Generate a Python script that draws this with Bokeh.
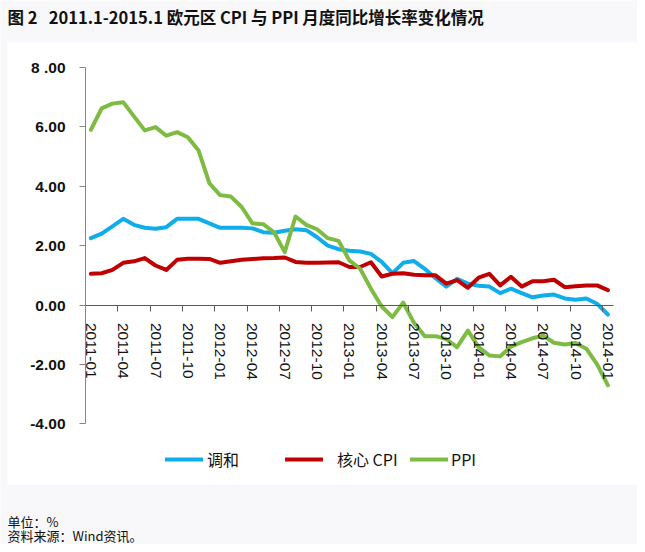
from bokeh.plotting import figure
from bokeh.models import (Range1d, FixedTicker, LinearAxis, Legend, LegendItem,
                          BoxAnnotation, Label)
from bokeh.embed import file_html
from bokeh.resources import INLINE

# ---------------- data ----------------
months = list(range(49))  # 2011-01 ... 2015-01

hicp = [2.25, 2.40, 2.65, 2.90, 2.70, 2.60, 2.57, 2.62, 2.90, 2.90, 2.90, 2.75,
        2.60, 2.60, 2.60, 2.58, 2.45, 2.43, 2.50, 2.55, 2.52, 2.28, 2.00, 1.88,
        1.83, 1.80, 1.72, 1.45, 1.07, 1.42, 1.48, 1.22, 0.90, 0.62, 0.88, 0.72,
        0.65, 0.62, 0.40, 0.55, 0.40, 0.26, 0.32, 0.35, 0.22, 0.18, 0.22, 0.04, -0.32]

core = [1.05, 1.07, 1.18, 1.42, 1.47, 1.58, 1.33, 1.18, 1.52, 1.56, 1.56, 1.55,
        1.42, 1.47, 1.52, 1.55, 1.57, 1.58, 1.60, 1.45, 1.42, 1.42, 1.43, 1.44,
        1.28, 1.28, 1.44, 0.96, 1.05, 1.07, 1.02, 1.00, 1.00, 0.72, 0.84, 0.58,
        0.92, 1.05, 0.66, 0.95, 0.62, 0.80, 0.80, 0.85, 0.60, 0.63, 0.66, 0.66, 0.50]

ppi = [5.90, 6.62, 6.78, 6.83, 6.35, 5.88, 5.99, 5.70, 5.82, 5.65, 5.20, 4.10,
       3.70, 3.65, 3.30, 2.75, 2.72, 2.45, 1.78, 2.98, 2.70, 2.55, 2.25, 2.16,
       1.50, 1.22, 0.55, -0.05, -0.41, 0.08, -0.60, -1.05, -1.05, -1.15, -1.42, -0.86,
       -1.42, -1.70, -1.73, -1.40, -1.25, -1.12, -1.03, -1.27, -1.33, -1.28, -1.47, -2.00, -2.70]

label_months = [0, 3, 6, 9, 12, 15, 18, 21, 24, 27, 30, 33, 36, 39, 42, 45, 48]
tick_labels = ["2011-01", "2011-04", "2011-07", "2011-10", "2012-01", "2012-04",
               "2012-07", "2012-10", "2013-01", "2013-04", "2013-07", "2013-10",
               "2014-01", "2014-04", "2014-07", "2014-10", "2014-01"]

y_ticks = [-4, -2, 0, 2, 4, 6, 8]
y_tick_labels = ["-4.00", "-2.00", "0.00", "2.00", "4.00", "6.00", "8 .00"]

series_names = ["调和", "核心 CPI", "PPI"]
series_colors = ["#0fadec", "#c00000", "#7dbb42"]

NB = "\u00a0"
title_text = "图" + NB + "2" + NB * 3 + "2011.1-2015.1" + NB + "欧元区" + NB + "CPI" + NB + "与" + NB + "PPI" + NB + "月度同比增长率变化情况"
note_unit = "单位：%"
note_source = "资料来源：Wind资讯。"

# ---------------- layout (picture pixels) ----------------
W, H = 637, 544
ORIGIN = 0
X0_PX, PX_PER_MONTH = 90.4, 10.77
Y0_PX, PX_PER_UNIT = 304.5, 29.7


def xd(px):
    return (px - X0_PX) / PX_PER_MONTH


def yd(px):
    return (Y0_PX - px) / PX_PER_UNIT


p = figure(width=W, height=H,
           x_range=Range1d(xd(ORIGIN), xd(ORIGIN + W)),
           y_range=Range1d(yd(ORIGIN + H), yd(ORIGIN)),
           x_axis_type=None, y_axis_type=None,
           output_backend="svg", toolbar_location=None,
           min_border=0, outline_line_color=None,
           background_fill_color="#f8f7fa", border_fill_color="#f8f7fa")

# white chart box
p.add_layout(BoxAnnotation(left=xd(7), right=xd(660), top=yd(42), bottom=yd(484),
                           fill_color="white", fill_alpha=1.0, line_color=None,
                           level="underlay"))

# y axis
yaxis = LinearAxis(fixed_location=-0.5, bounds=(-4, 8),
                   ticker=FixedTicker(ticks=y_ticks),
                   major_label_overrides={float(t): s for t, s in zip(y_ticks, y_tick_labels)},
                   axis_line_color="#868686", major_tick_line_color="#868686",
                   minor_tick_line_color=None, major_tick_out=6, major_tick_in=0,
                   major_label_standoff=14,
                   major_label_text_font="Liberation Sans",
                   major_label_text_font_size="15.5px",
                   major_label_text_font_style="bold",
                   major_label_text_color="#111111")
p.add_layout(yaxis, "left")

# x axis: line + boundary ticks
xaxis_ticks = LinearAxis(fixed_location=0, bounds=(-0.5, 48.5),
                         ticker=FixedTicker(ticks=[m - 0.5 for m in label_months]),
                         axis_line_color="#5a5a5a", major_tick_line_color="#5a5a5a",
                         minor_tick_line_color=None, major_tick_out=6, major_tick_in=0,
                         major_label_text_color=None)
p.add_layout(xaxis_ticks, "below")

# x axis: labels
xaxis_labels = LinearAxis(fixed_location=0,
                          ticker=FixedTicker(ticks=label_months),
                          major_label_overrides={float(m): s for m, s in zip(label_months, tick_labels)},
                          axis_line_color=None, major_tick_line_color=None,
                          minor_tick_line_color=None, major_tick_out=0, major_tick_in=0,
                          major_label_orientation="vertical",
                          major_label_standoff=18,
                          major_label_text_font="Liberation Sans",
                          major_label_text_font_size="15.5px",
                          major_label_text_color="#111111")
p.add_layout(xaxis_labels, "below")

# series
renderers = []
for ys, c in zip([hicp, core, ppi], series_colors):
    r = p.line(months, ys, line_color=c, line_width=4,
               line_join="round", line_cap="round")
    renderers.append(r)

# legends (one per item to mimic irregular spacing)
legend_x = [165, 285, 410]
standoffs = [4, 14, 3]
for r, name, gx, so in zip(renderers, series_names, legend_x, standoffs):
    lg = Legend(items=[LegendItem(label=name, renderers=[r])],
                location=(gx - ORIGIN, H - (471 - ORIGIN)),
                orientation="horizontal", padding=0, margin=0, spacing=0,
                glyph_width=38, glyph_height=16, label_height=16,
                label_standoff=so,
                label_text_font="Noto Sans CJK SC", label_text_font_size="16px",
                label_text_color="#111111",
                border_line_color=None, background_fill_alpha=0)
    p.add_layout(lg, "center")

# title and notes
p.add_layout(Label(x=xd(7), y=yd(16), text=title_text,
                   text_font="Noto Sans CJK SC", text_font_style="bold",
                   text_font_size="16.5px", text_baseline="middle",
                   text_color="#111111"))
p.add_layout(Label(x=xd(7), y=yd(521), text=note_unit,
                   text_font="Noto Sans CJK SC", text_font_size="13px",
                   text_baseline="middle", text_color="#111111"))
p.add_layout(Label(x=xd(7), y=yd(535), text=note_source,
                   text_font="Noto Sans CJK SC", text_font_size="13px",
                   text_baseline="middle", text_color="#111111"))

open("out.html", "w").write(file_html(p, INLINE))
